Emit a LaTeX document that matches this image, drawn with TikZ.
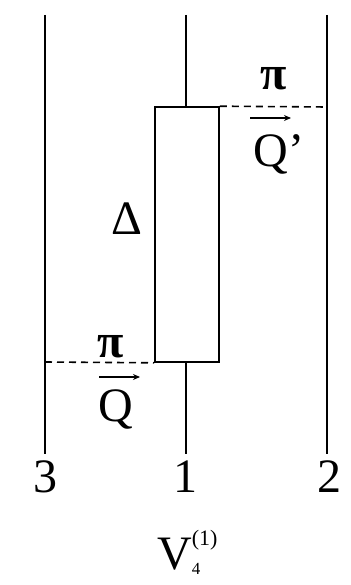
\documentclass[tikz,border=0pt]{standalone}
\usepackage{fontspec}
\setmainfont{Liberation Serif}
\usetikzlibrary{arrows.meta}
\tikzset{
  wire/.style={line width=1.6pt},
  dashline/.style={line width=1.6pt, dash pattern=on 7pt off 5pt},
  lbl/.style={inner sep=0pt, anchor=base, font=\fontsize{48}{50}\selectfont},
  vecarrow/.style={line width=1.3pt, -{Stealth[length=7pt,width=6pt]}}
}
\begin{document}
\begin{tikzpicture}[x=1pt,y=-1pt]
\useasboundingbox (0,0) rectangle (350,585);
% lines
\coordinate (t3) at (45,15);  \coordinate (b3) at (45,454);
\coordinate (t1) at (186,15); \coordinate (b1) at (186,454);
\coordinate (t2) at (327,15); \coordinate (b2) at (327,454);
\node[draw, wire, minimum width=64pt, minimum height=255pt, inner sep=0pt] (box) at (187,234.5) {};
\draw[wire] (t3) -- (b3);
\draw[wire] (t2) -- (b2);
\draw[wire] (t1) -- (t1 |- box.north);
\draw[wire] (box.south -| b1) -- (b1);
\coordinate (r2) at (327,107);
\coordinate (l3) at (45,362);
\draw[dashline] (box.north east) -- (r2);
\draw[dashline] (l3) -- (box.south west);
% labels
\node[lbl] (pi1) at (274,90) {\textbf{π}};
\node[lbl] (Qp) at (279,167) {Q’};
\draw[vecarrow] (250,118) -- (291,118);
\node[lbl] (delta) at (127,234) {Δ};
\node[lbl] (pi2) at (111,357) {\textbf{π}};
\node[lbl] (Q) at (116,421) {Q};
\draw[vecarrow] (99,377) -- (140,377);
\node[lbl] (n3) at (45,492) {3};
\node[lbl] (n1) at (185,492) {1};
\node[lbl] (n2) at (329,492) {2};
\node[lbl, anchor=base west] (V) at (157,569) {V\rlap{\raisebox{0.5em}{\fontsize{22}{22}\selectfont (1)}}\raisebox{-0.12em}{\fontsize{17}{17}\selectfont 4}};
\end{tikzpicture}
\end{document}
